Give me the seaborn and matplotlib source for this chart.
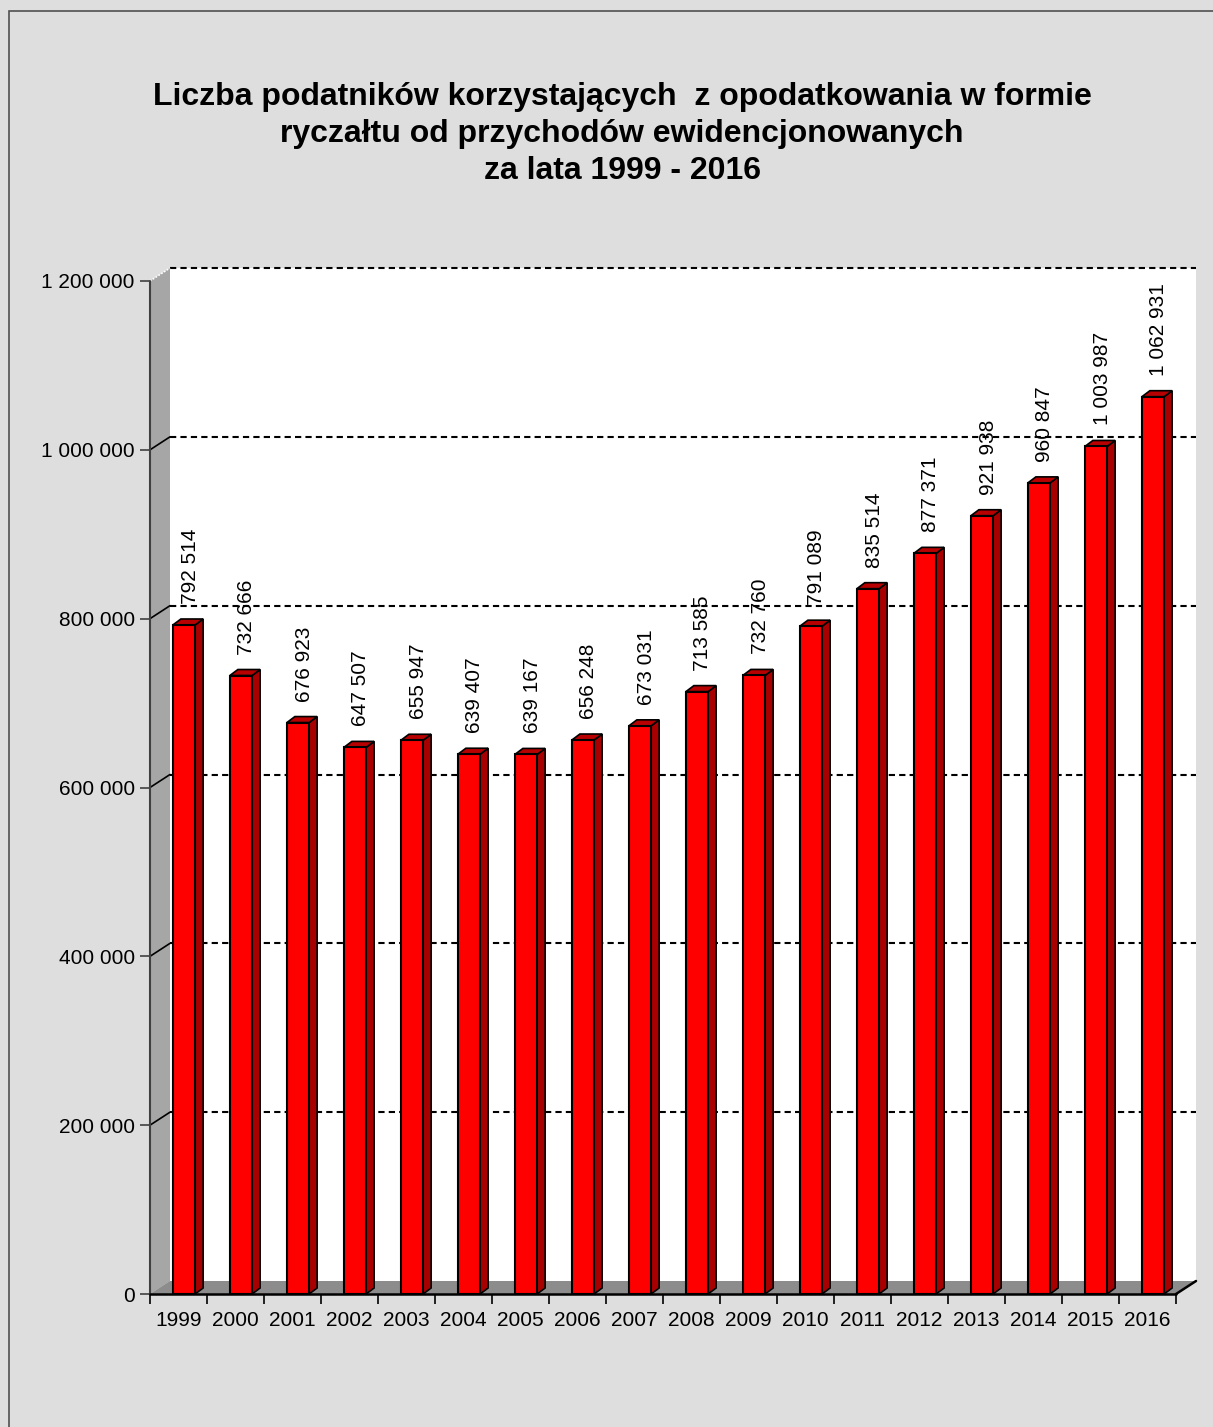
import numpy as np
import pandas as pd
import seaborn as sns
import matplotlib
matplotlib.use('Agg')
import matplotlib.pyplot as plt
from matplotlib.patches import Polygon, Rectangle
from matplotlib.lines import Line2D
from matplotlib.transforms import IdentityTransform
from matplotlib.ticker import FuncFormatter, FixedLocator

years = [str(y) for y in range(1999, 2017)]
values = [792514, 732666, 676923, 647507, 655947, 639407, 639167, 656248, 673031,
          713585, 732760, 791089, 835514, 877371, 921938, 960847, 1003987, 1062931]
y_ticks = [0, 200000, 400000, 600000, 800000, 1000000, 1200000]
title = ("Liczba podatników korzystających  z opodatkowania w formie\n"
         "ryczałtu od przychodów ewidencjonowanych\n"
         "za lata 1999 - 2016")

sns.set_theme(style='white')
plt.rcParams['font.family'] = ['Liberation Sans', 'DejaVu Sans']

W, H = 1213, 1427
fig = plt.figure(figsize=(W / 100, H / 100), dpi=100, facecolor='#dedede')
ax = fig.add_axes([150 / W, (H - 1294) / H, 1026 / W, 1013 / H])
ax.set_facecolor('none')

df = pd.DataFrame({'year': years, 'value': values})
sns.barplot(data=df, x='year', y='value', color='#ff0000', width=0.39,
            edgecolor='black', linewidth=1.5, saturation=1, ax=ax, zorder=5)
ax.set_xlim(-0.5, len(years) - 0.5)
ax.set_ylim(y_ticks[0], y_ticks[-1])

ID = IdentityTransform()
DX, DY = 20, 13     # wall depth in pixels
BX, BY = 8, 6       # bar depth in pixels
SHIFT = 5.5 / 57.0  # bars sit slightly back/right inside the 3D box (data units)

(x0, y0) = ax.transData.transform((-0.5, 0))
(x1, ytop) = ax.transData.transform((len(years) - 0.5, y_ticks[-1]))

# back wall
ax.add_patch(Polygon([(x0 + DX, y0 + DY), (x1 + DX, y0 + DY), (x1 + DX, ytop + DY), (x0 + DX, ytop + DY)],
                     closed=True, facecolor='white', edgecolor='none', transform=ID, clip_on=False, zorder=0))
# left wall
ax.add_patch(Polygon([(x0, y0), (x0 + DX, y0 + DY), (x0 + DX, ytop + DY), (x0, ytop)],
                     closed=True, facecolor='#a6a6a6', edgecolor='none', transform=ID, clip_on=False, zorder=0.5))
# floor
ax.add_patch(Polygon([(x0, y0), (x0 + DX, y0 + DY), (x1 + DX, y0 + DY), (x1, y0)],
                     closed=True, facecolor='#8c8c8c', edgecolor='none', transform=ID, clip_on=False, zorder=0.5))

# gridlines on back wall
for t in y_ticks[1:]:
    _, yp = ax.transData.transform((0, t))
    ax.add_line(Line2D([x0 + DX, x1 + DX], [yp + DY, yp + DY], color='black', lw=1.5,
                       linestyle=(0, (3, 2)), transform=ID, clip_on=False, zorder=1))
    if t == y_ticks[-1]:
        ax.add_line(Line2D([x0, x0 + DX], [yp, yp + DY], color='white', lw=1.2,
                           linestyle=(0, (1, 1)), transform=ID, clip_on=False, zorder=1))
    else:
        ax.add_line(Line2D([x0, x0 + DX], [yp, yp + DY], color='black', lw=1.2,
                           transform=ID, clip_on=False, zorder=1))

# axis lines
ax.add_line(Line2D([x0, x0], [y0, ytop], color='#404040', lw=1.5, transform=ID, clip_on=False, zorder=2))
ax.add_line(Line2D([x0, x1], [y0, y0], color='black', lw=1.8, transform=ID, clip_on=False, zorder=6))
ax.add_line(Line2D([x1, x1 + DX], [y0, y0 + DY], color='black', lw=1.8, transform=ID, clip_on=False, zorder=6))

# 3D sides and tops for bars
for bar in list(ax.patches):
    if not isinstance(bar, Rectangle) or bar.get_height() <= 0:
        continue
    bar.set_x(bar.get_x() + SHIFT)
    bx, by = bar.get_x(), bar.get_height()
    (lx, ly0) = ax.transData.transform((bx, 0))
    (rx, ly1) = ax.transData.transform((bx + bar.get_width(), by))
    ax.add_patch(Polygon([(rx, ly0), (rx, ly1), (rx + BX, ly1 + BY), (rx + BX, ly0 + BY)],
                         closed=True, facecolor='#a80000', edgecolor='black', lw=1.2,
                         transform=ID, clip_on=False, zorder=4.9))
    ax.add_patch(Polygon([(lx, ly1), (rx, ly1), (rx + BX, ly1 + BY), (lx + BX, ly1 + BY)],
                         closed=True, facecolor='#b80000', edgecolor='black', lw=1.2,
                         transform=ID, clip_on=False, zorder=4.9))

# value labels
for i, v in enumerate(values):
    ax.annotate(f"{v:,}".replace(',', ' '), xy=(i + SHIFT, v), xytext=(6, 21), textcoords='offset pixels',
                rotation=90, ha='center', va='bottom', fontsize=15, color='black', zorder=7,
                annotation_clip=False)

# ticks
for s in ax.spines.values():
    s.set_visible(False)
ax.yaxis.set_major_locator(FixedLocator(y_ticks))
ax.yaxis.set_major_formatter(FuncFormatter(lambda x, p: f"{int(x):,}".replace(',', ' ')))
ax.tick_params(axis='y', which='major', left=True, length=7, width=1.2, color='#404040',
               labelsize=15, pad=4, labelcolor='black')
ax.set_xticks(range(len(years)))
ax.set_xticklabels(years)
ax.xaxis.set_minor_locator(FixedLocator(np.arange(-0.5, len(years), 1.0)))
ax.tick_params(axis='x', which='major', bottom=False, length=0, labelsize=15, pad=12, labelcolor='black')
ax.tick_params(axis='x', which='minor', bottom=True, length=7, width=1.2, color='black')
ax.set_xlabel('')
ax.set_ylabel('')
ax.grid(False)

# title
fig.text(622 / W, 1 - 134 / H, title, ha='center', va='center', fontsize=23,
         fontweight='bold', linespacing=1.3, color='black')

# outer frame
fig.add_artist(Rectangle((9 / W, -0.05), 1.2, 1.05 - 11 / H, transform=fig.transFigure,
                         fill=False, edgecolor='#505050', lw=1.2))

fig.savefig('out.png', dpi=100, facecolor=fig.get_facecolor())
